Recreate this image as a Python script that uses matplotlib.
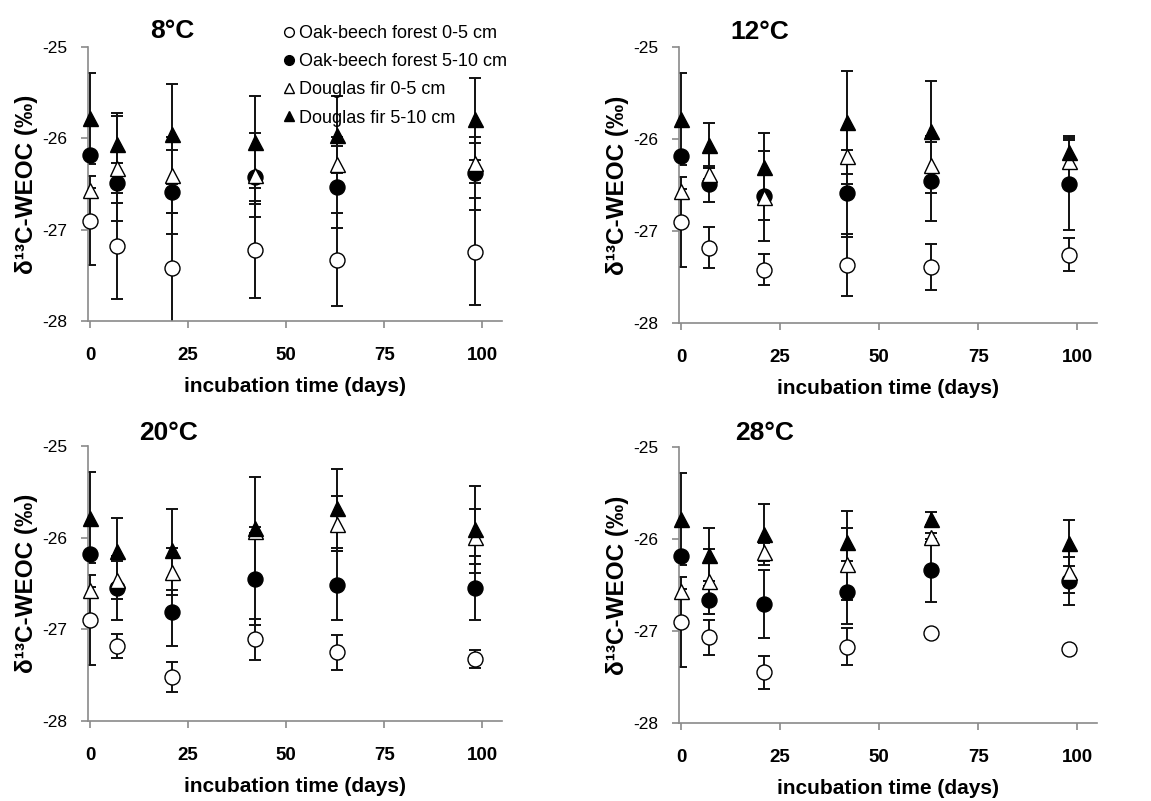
import matplotlib
matplotlib.use("Agg")
import matplotlib.pyplot as plt
from matplotlib import font_manager as fm
from matplotlib.lines import Line2D

def has_font(name):
    try:
        fm.findfont(fm.FontProperties(family=name), fallback_to_default=False)
        return True
    except Exception:
        return False

NARROW = "Liberation Sans Narrow" if has_font("Liberation Sans Narrow") else None
plt.rcParams["font.family"] = ["Liberation Sans", "DejaVu Sans"]

# ---------------- data ----------------
days = [0, 7, 21, 42, 63, 98]
series_labels = ["Oak-beech forest 0-5 cm", "Oak-beech forest 5-10 cm",
                 "Douglas fir 0-5 cm", "Douglas fir 5-10 cm"]
panel_titles = ["8°C", "12°C", "20°C", "28°C"]
x_ticks = [0, 25, 50, 75, 100]
y_ticks = [-28, -27, -26, -25]

# 8 °C
t8_oak_0_5 = [-26.90, -27.18, -27.42, -27.22, -27.33, -27.24]
t8_oak_0_5_err = [0.49, 0.58, 0.60, 0.53, 0.51, 0.59]
t8_oak_5_10 = [-26.18, -26.49, -26.59, -26.42, -26.53, -26.38]
t8_oak_5_10_err = [0.03, 0.22, 0.46, 0.30, 0.45, 0.40]
t8_dou_0_5 = [-26.57, -26.33, -26.40, -26.40, -26.28, -26.27]
t8_dou_0_5_err = [0.03, 0.58, 0.42, 0.46, 0.30, 0.22]
t8_dou_5_10 = [-25.78, -26.06, -25.95, -26.04, -25.96, -25.79]
t8_dou_5_10_err = [0.50, 0.34, 0.55, 0.50, 0.42, 0.45]

# 12 °C
t12_oak_0_5 = [-26.90, -27.18, -27.42, -27.37, -27.39, -27.26]
t12_oak_0_5_err = [0.49, 0.22, 0.17, 0.34, 0.25, 0.18]
t12_oak_5_10 = [-26.18, -26.49, -26.62, -26.59, -26.46, -26.49]
t12_oak_5_10_err = [0.03, 0.20, 0.49, 0.47, 0.43, 0.50]
t12_dou_0_5 = [-26.57, -26.38, -26.63, -26.19, -26.28, -26.24]
t12_dou_0_5_err = [0.03, 0.06, 0.25, 0.30, 0.31, 0.23]
t12_dou_5_10 = [-25.78, -26.07, -26.30, -25.82, -25.91, -26.14]
t12_dou_5_10_err = [0.50, 0.24, 0.37, 0.56, 0.54, 0.17]

# 20 °C
t20_oak_0_5 = [-26.90, -27.18, -27.52, -27.11, -27.25, -27.32]
t20_oak_0_5_err = [0.49, 0.13, 0.16, 0.22, 0.19, 0.10]
t20_oak_5_10 = [-26.18, -26.55, -26.81, -26.45, -26.52, -26.55]
t20_oak_5_10_err = [0.03, 0.35, 0.37, 0.50, 0.38, 0.35]
t20_dou_0_5 = [-26.57, -26.46, -26.37, -25.93, -25.85, -25.99]
t20_dou_0_5_err = [0.03, 0.21, 0.26, 0.05, 0.30, 0.30]
t20_dou_5_10 = [-25.78, -26.14, -26.13, -25.89, -25.68, -25.91]
t20_dou_5_10_err = [0.50, 0.36, 0.44, 0.55, 0.43, 0.47]

# 28 °C
t28_oak_0_5 = [-26.90, -27.07, -27.45, -27.17, -27.02, -27.20]
t28_oak_0_5_err = [0.49, 0.19, 0.18, 0.20, 0.03, 0.03]
t28_oak_5_10 = [-26.18, -26.66, -26.71, -26.58, -26.34, -26.46]
t28_oak_5_10_err = [0.03, 0.15, 0.37, 0.34, 0.34, 0.26]
t28_dou_0_5 = [-26.57, -26.46, -26.14, -26.27, -25.98, -26.36]
t28_dou_0_5_err = [0.03, 0.35, 0.10, 0.39, 0.05, 0.23]
t28_dou_5_10 = [-25.78, -26.17, -25.95, -26.03, -25.78, -26.04]
t28_dou_5_10_err = [0.50, 0.29, 0.33, 0.33, 0.07, 0.25]

panels = [
    [(t8_oak_0_5, t8_oak_0_5_err), (t8_oak_5_10, t8_oak_5_10_err),
     (t8_dou_0_5, t8_dou_0_5_err), (t8_dou_5_10, t8_dou_5_10_err)],
    [(t12_oak_0_5, t12_oak_0_5_err), (t12_oak_5_10, t12_oak_5_10_err),
     (t12_dou_0_5, t12_dou_0_5_err), (t12_dou_5_10, t12_dou_5_10_err)],
    [(t20_oak_0_5, t20_oak_0_5_err), (t20_oak_5_10, t20_oak_5_10_err),
     (t20_dou_0_5, t20_dou_0_5_err), (t20_dou_5_10, t20_dou_5_10_err)],
    [(t28_oak_0_5, t28_oak_0_5_err), (t28_oak_5_10, t28_oak_5_10_err),
     (t28_dou_0_5, t28_dou_0_5_err), (t28_dou_5_10, t28_dou_5_10_err)],
]

# ---------------- styles ----------------
styles = [
    dict(marker="o", mfc="white", mec="black", ms=10.8),
    dict(marker="o", mfc="black", mec="black", ms=10.8),
    dict(marker="^", mfc="white", mec="black", ms=10.8),
    dict(marker="^", mfc="black", mec="black", ms=10.8),
]

W, H = 1151, 801
fig = plt.figure(figsize=(W / 100, H / 100), dpi=100)

def frac_box(left_px, right_px, top_px, bottom_px):
    return [left_px / W, 1 - bottom_px / H, (right_px - left_px) / W, (bottom_px - top_px) / H]

boxes = [
    frac_box(88, 502, 47, 321),
    frac_box(679, 1097, 47, 323),
    frac_box(88, 502, 446, 721),
    frac_box(679, 1097, 447, 723),
]
title_pos = [(172, 31), (760, 32), (168, 433), (765, 433)]

if NARROW:
    xt_font = dict(fontfamily=NARROW, fontweight="bold", fontsize=14.5)
    yt_font = dict(fontfamily=NARROW, fontsize=13.5)
else:
    xt_font = dict(fontweight="bold", fontsize=13.5)
    yt_font = dict(fontsize=12.5)

SPINE = "#8a8a8a"
for i, (box, data) in enumerate(zip(boxes, panels)):
    ax = fig.add_axes(box)
    for (vals, errs), st in zip(data, styles):
        ax.errorbar(days, vals, yerr=errs, fmt="none", ecolor="#111111",
                    elinewidth=1.4, capsize=4.5, capthick=1.4, zorder=2)
        ax.plot(days, vals, linestyle="none", marker=st["marker"], ms=st["ms"],
                mfc=st["mfc"], mec=st["mec"], mew=1.0, zorder=3, clip_on=False)
    ax.set_xlim(-0.5, 105)
    ax.set_ylim(-28, -25)
    ax.set_xticks(x_ticks)
    ax.set_yticks(y_ticks)
    ax.set_xticklabels([str(t) for t in x_ticks], **xt_font)
    ax.set_yticklabels([str(t) for t in y_ticks], **yt_font)
    for s in ["top", "right"]:
        ax.spines[s].set_visible(False)
    for s in ["left", "bottom"]:
        ax.spines[s].set_color(SPINE)
        ax.spines[s].set_linewidth(1.2)
    ax.tick_params(axis="both", colors=SPINE, labelcolor="black", length=5, width=1.2)
    ax.tick_params(axis="x", pad=14)
    ax.tick_params(axis="y", pad=10)
    ax.set_xlabel("incubation time (days)", fontsize=15, fontweight="bold", labelpad=9)
    ax.set_ylabel("δ¹³C-WEOC (‰)", fontsize=17.5, fontweight="bold", labelpad=3)
    tx, ty = title_pos[i]
    fig.text(tx / W, 1 - ty / H, panel_titles[i], ha="center", va="center",
             fontsize=19, fontweight="bold")
    if i == 0:
        handles = [Line2D([], [], linestyle="none", marker=st["marker"], ms=7,
                          mfc=st["mfc"], mec="black", mew=1.0) for st in styles]
        fig.legend(handles, series_labels, loc="upper left",
                   bbox_to_anchor=(283 / W, 1 - 25 / H), frameon=False,
                   fontsize=13, handlelength=0.7, handletextpad=0.2,
                   labelspacing=0.62, borderpad=0, borderaxespad=0)

fig.savefig("out.png", dpi=100, facecolor="white")
